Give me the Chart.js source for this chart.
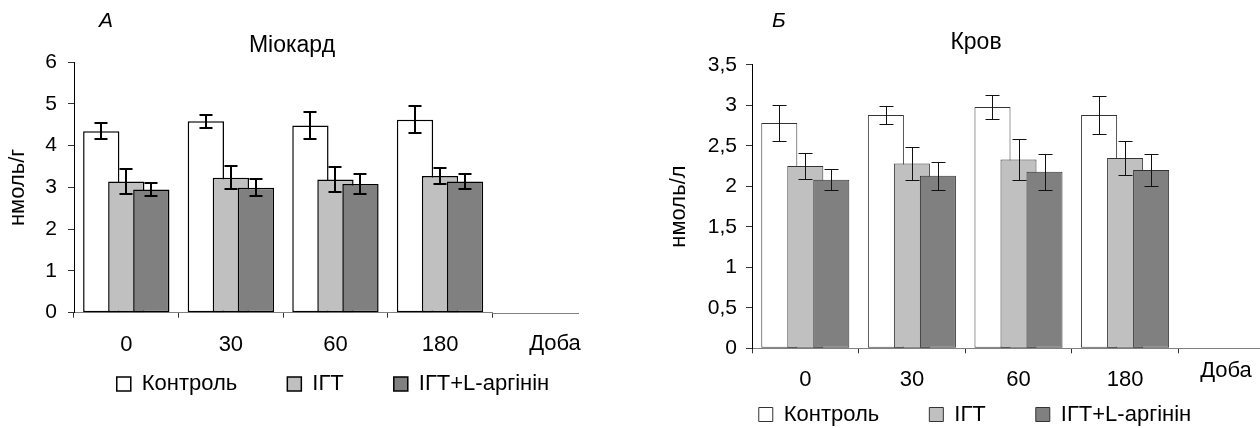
<!DOCTYPE html>
<html lang="uk">
<head>
<meta charset="utf-8">
<title>Міокард / Кров</title>
<script src="https://cdn.jsdelivr.net/npm/chart.js@4.4.1/dist/chart.umd.min.js"></script>
<style>
  html, body { margin: 0; padding: 0; background: #fff; overflow: hidden; }
  #wrap { position: relative; width: 1260px; height: 428px; overflow: hidden; }
  canvas { position: absolute; top: 0; }
  #myo { left: 0; }
  #blood { left: 660px; }
</style>
</head>
<body>
<div id="wrap">
  <canvas id="myo" width="666" height="428"></canvas>
  <canvas id="blood" width="630" height="428"></canvas>
</div>
<script>
// Data
const days = ["0", "30", "60", "180"];
const seriesNames = ["Контроль", "ІГТ", "ІГТ+L-аргінін"];
const unitLabel = "Доба";

// A - Міокард, нмоль/г
const myoControl = [4.34, 4.58, 4.48, 4.62];
const myoControlErr = [0.19, 0.15, 0.33, 0.33];
const myoIgt = [3.14, 3.23, 3.19, 3.27];
const myoIgtErr = [0.29, 0.27, 0.29, 0.19];
const myoArg = [2.95, 2.99, 3.08, 3.14];
const myoArgErr = [0.15, 0.2, 0.24, 0.19];
const myoTicks = ["0", "1", "2", "3", "4", "5", "6"];

// Б - Кров, нмоль/л
const bloodControl = [2.78, 2.88, 2.98, 2.88];
const bloodControlErr = [0.22, 0.11, 0.145, 0.235];
const bloodIgt = [2.25, 2.28, 2.33, 2.35];
const bloodIgtErr = [0.165, 0.2, 0.25, 0.21];
const bloodArg = [2.08, 2.13, 2.18, 2.2];
const bloodArgErr = [0.13, 0.17, 0.22, 0.2];
const bloodTicks = ["0", "0,5", "1", "1,5", "2", "2,5", "3", "3,5"];

const fills = ["#ffffff", "#c0c0c0", "#808080"];
const FONT = '"Liberation Sans", Arial, sans-serif';

Chart.defaults.font.family = FONT;
Chart.defaults.color = "#000";

// bars drawn left to right (later series on top), error bars, legend row placement, extra texts
const panelPlugin = {
  id: "panel",
  beforeInit(chart) {
    const fit = chart.legend.fit;
    chart.legend.fit = function () {
      fit.call(this);
      this.height = 20;
    };
  },
  afterLayout(chart, args, o) {
    const lg = chart.legend;
    lg.top = o.legendRow - lg.options.labels.padding;
    lg.bottom = chart.height;
    lg.height = lg.bottom - lg.top;
  },
  beforeDatasetsDraw(chart, args, o) {
    const ctx = chart.ctx;
    const y = chart.scales.y;
    chart.data.datasets.forEach((ds, i) => chart.getDatasetMeta(i).controller.draw());

    ctx.save();
    ctx.strokeStyle = o.errColor;
    ctx.lineWidth = o.errWidth;
    const shift = (o.errWidth % 2) / 2;
    chart.data.datasets.forEach((ds, i) => {
      chart.getDatasetMeta(i).data.forEach((bar, j) => {
        const v = ds.data[j], e = ds.errors[j];
        const top = Math.round(y.getPixelForValue(v + e)) + shift;
        const bot = Math.round(y.getPixelForValue(v - e)) + shift;
        const x = Math.round(bar.x) + shift;
        const h = o.cap / 2;
        ctx.beginPath();
        ctx.moveTo(x, top); ctx.lineTo(x, bot);
        ctx.moveTo(x - h, top); ctx.lineTo(x + h, top);
        ctx.moveTo(x - h, bot); ctx.lineTo(x + h, bot);
        ctx.stroke();
      });
    });
    ctx.restore();
    return false;
  },
  afterDraw(chart, args, o) {
    const { ctx, chartArea } = chart;
    ctx.save();
    const yAxis = Math.round(chartArea.bottom) + 0.5;
    ctx.strokeStyle = "#808080";
    ctx.lineWidth = 1;
    ctx.beginPath();
    ctx.moveTo(chartArea.right, yAxis);
    ctx.lineTo(o.axisEnd, yAxis);
    ctx.stroke();

    ctx.fillStyle = "#000";
    ctx.font = "22px " + FONT;
    ctx.textAlign = "center";
    ctx.textBaseline = "middle";
    ctx.fillText(unitLabel, o.unitX, chartArea.bottom + o.unitDy);

    ctx.font = "23px " + FONT;
    ctx.textBaseline = "alphabetic";
    ctx.fillText(o.title, o.titleX, o.titleY);

    ctx.font = "italic 21px " + FONT;
    ctx.textAlign = "left";
    ctx.fillText(o.letter, o.letterX, o.letterY);
    ctx.restore();
  }
};

function drawPanel(id, values, errors, p) {
  const datasets = values.map((v, i) => ({
    label: seriesNames[i],
    data: v,
    errors: errors[i],
    backgroundColor: fills[i],
    borderColor: p.barBorder,
    borderWidth: p.barBorderWidth,
    borderSkipped: false,
    categoryPercentage: p.cat,
    barPercentage: p.bar
  }));

  new Chart(document.getElementById(id), {
    type: "bar",
    data: { labels: days, datasets: datasets },
    options: {
      responsive: false,
      animation: false,
      layout: { padding: p.padding },
      scales: {
        x: {
          offset: true,
          grid: { offset: true, drawOnChartArea: false, tickLength: 5, color: "#333" },
          border: { color: "#808080" },
          ticks: { font: { size: 22 }, padding: p.xPad, color: "#000" },
          afterFit: (s) => { s.height = 45; }
        },
        y: {
          min: 0,
          max: p.max,
          ticks: {
            stepSize: p.step,
            font: { size: 21 },
            padding: p.yPad,
            color: "#000",
            callback: (v, i) => p.tickLabels[i]
          },
          grid: { drawOnChartArea: false, tickLength: 6, color: "#333" },
          border: { color: "#000" },
          title: { display: true, text: p.unit, font: { size: 22 }, padding: { top: p.titlePad, bottom: 0 } },
          afterFit: (s) => { s.width = p.yWidth; }
        },
        spacer: {
          type: "linear",
          position: "right",
          grid: { display: false },
          border: { display: false },
          ticks: { display: false },
          afterFit: (s) => { s.width = p.rightWidth; }
        }
      },
      plugins: {
        legend: {
          position: "bottom",
          labels: { boxWidth: 14, boxHeight: 14, padding: 50, font: { size: 22 }, color: "#000" }
        },
        tooltip: { enabled: false },
        panel: p.panel
      }
    },
    plugins: [panelPlugin]
  });
}

drawPanel("myo",
  [myoControl, myoIgt, myoArg],
  [myoControlErr, myoIgtErr, myoArgErr],
  {
    max: 6, step: 1, tickLabels: myoTicks, unit: "нмоль/г",
    padding: { top: 62, left: 0, right: 0, bottom: 50.3 },
    yWidth: 74, rightWidth: 173.7,
    xPad: 14, yPad: 11, titlePad: 5,
    cat: 0.718, bar: 1.45,
    barBorder: "#000", barBorderWidth: 1.5,
    panel: {
      errColor: "#000", errWidth: 2, cap: 13,
      axisEnd: 579, unitX: 555, unitDy: 31.5,
      title: "Міокард", titleX: 292, titleY: 51.5,
      letter: "А", letterX: 99, letterY: 27.3,
      legendRow: 373
    }
  });

drawPanel("blood",
  [bloodControl, bloodIgt, bloodArg],
  [bloodControlErr, bloodIgtErr, bloodArgErr],
  {
    max: 3.5, step: 0.5, tickLabels: bloodTicks, unit: "нмоль/л",
    padding: { top: 64.8, left: 0, right: 0, bottom: 14.7 },
    yWidth: 92, rightWidth: 111.6,
    xPad: 13, yPad: 9, titlePad: 6,
    cat: 0.732, bar: 1.385,
    barBorder: "#333", barBorderWidth: 1,
    panel: {
      errColor: "#111", errWidth: 1, cap: 14,
      axisEnd: 630, unitX: 566, unitDy: 23,
      title: "Кров", titleX: 316, titleY: 49.3,
      letter: "Б", letterX: 112, letterY: 27.3,
      legendRow: 403.5
    }
  });
</script>
</body>
</html>
